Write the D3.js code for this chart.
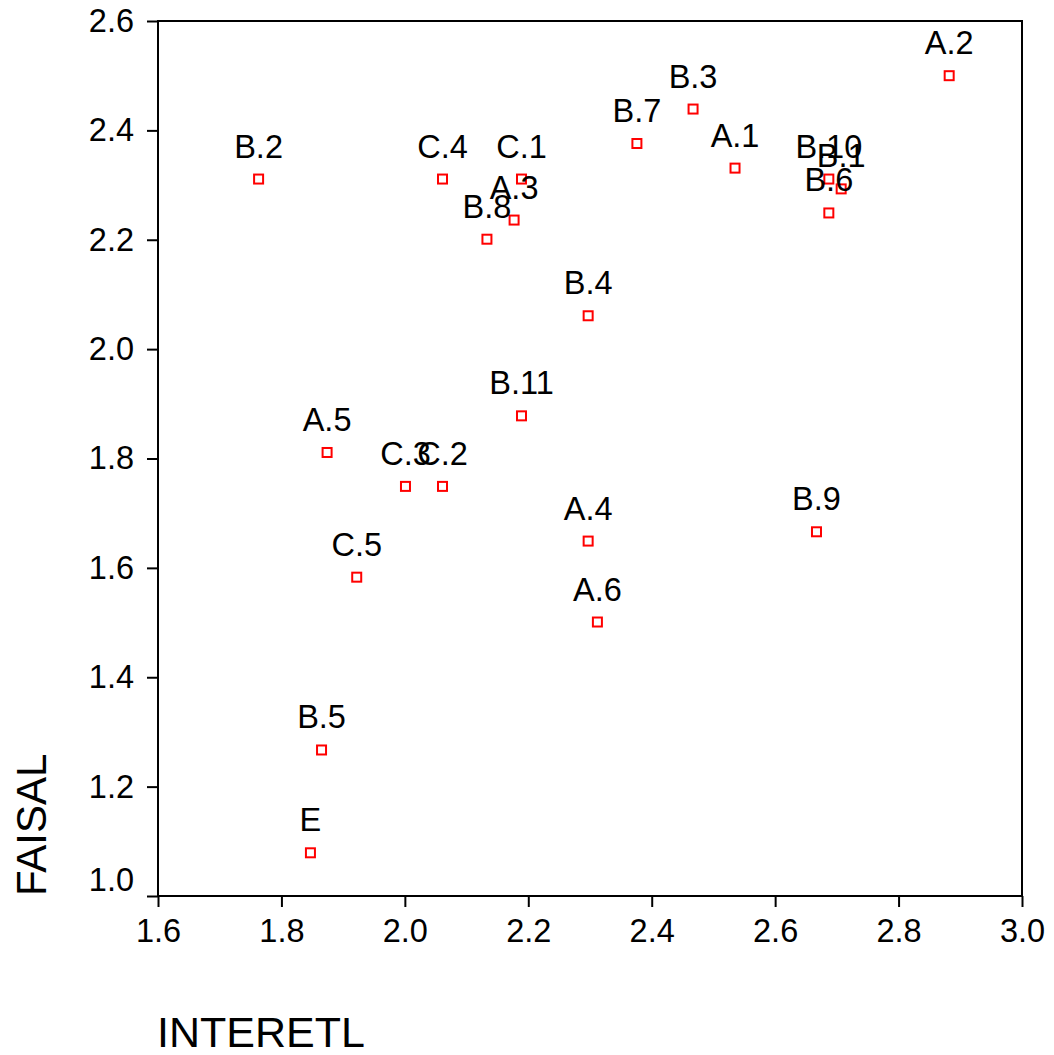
<!DOCTYPE html>
<html>
<head>
<meta charset="utf-8">
<script src="https://cdn.jsdelivr.net/npm/d3@7"></script>
<style>
  body { margin: 0; background: #fff; }
  svg { font-family: "Liberation Sans", Arial, sans-serif; }
</style>
</head>
<body>
<div id="chart"></div>
<script>
// point labels, INTERETL (x) and FAISAL (y) values
var labels = ["A.2", "B.3", "B.7", "A.1", "B.2", "C.4", "C.1", "A.3", "B.8", "B.10", "B.1", "B.6",
              "B.4", "B.11", "A.5", "C.3", "C.2", "A.4", "B.9", "C.5", "A.6", "B.5", "E"];
var interetl = [2.882, 2.467, 2.376, 2.535, 1.763, 2.061, 2.189, 2.177, 2.133, 2.687, 2.707, 2.687,
                2.297, 2.189, 1.874, 2.001, 2.061, 2.297, 2.667, 1.922, 2.312, 1.865, 1.847];
var faisal = [2.500, 2.439, 2.376, 2.331, 2.311, 2.311, 2.311, 2.236, 2.201, 2.311, 2.293, 2.249,
              2.061, 1.878, 1.811, 1.749, 1.749, 1.649, 1.666, 1.583, 1.501, 1.267, 1.079];
var xTicks = [1.6, 1.8, 2.0, 2.2, 2.4, 2.6, 2.8, 3.0];
var yTicks = [1.0, 1.2, 1.4, 1.6, 1.8, 2.0, 2.2, 2.4, 2.6];

var width = 1054, height = 1055;
var margin = {top: 21, right: 32, bottom: 159, left: 158};
var fontSize = "32.5px";

var data = labels.map((d, i) => ({label: d, x: interetl[i], y: faisal[i]}));

var svg = d3.select("#chart").append("svg")
    .attr("width", width)
    .attr("height", height);

var x = d3.scaleLinear()
  .domain([1.6, 3.0])
  .range([margin.left, width - margin.right]);

var y = d3.scaleLinear()
  .domain([1.0, 2.6])
  .range([height - margin.bottom, margin.top]);

// frame
svg.append("rect")
  .attr("x", x(1.6))
  .attr("y", y(2.6))
  .attr("width", x(3.0) - x(1.6))
  .attr("height", y(1.0) - y(2.6))
  .style("fill", "none")
  .style("stroke", "#000")
  .style("stroke-width", 2);

var xAxis = d3.axisBottom(x)
  .tickValues(xTicks)
  .tickSize(11)
  .tickPadding(12)
  .tickFormat(d3.format(".1f"));

var yAxis = d3.axisLeft(y)
  .tickValues(yTicks)
  .tickSize(11)
  .tickPadding(13)
  .tickFormat(d3.format(".1f"));

var gx = svg.append("g")
  .attr("transform", `translate(0,${y(1.0)})`)
  .call(xAxis);

var gy = svg.append("g")
  .attr("transform", `translate(${x(1.6)},0)`)
  .call(yAxis);

[gx, gy].forEach(g => {
  g.select(".domain").remove();
  g.selectAll(".tick line").style("stroke", "#000").style("stroke-width", 2);
  g.selectAll(".tick text")
    .style("font-size", fontSize)
    .style("fill", "#000")
    .attr("font-family", null);
});

// lowest y label sits a bit above its tick, clear of the x labels
gy.selectAll(".tick text").filter(d => d == 1.0).attr("y", -16);

// axis titles
svg.append("text")
  .attr("x", x(1.6) - 1)
  .attr("y", 1047)
  .style("font-size", "43px")
  .text("INTERETL");

svg.append("text")
  .attr("transform", `translate(46,${y(1.0)}) rotate(-90)`)
  .style("font-size", "42px")
  .text("FAISAL");

// points
var points = svg.append("g").attr("class", "points");

points.selectAll("rect")
  .data(data)
  .enter().append("rect")
    .attr("x", d => x(d.x) - 4.5)
    .attr("y", d => y(d.y) - 4.5)
    .attr("width", 9)
    .attr("height", 9)
    .style("fill", "#fff")
    .style("stroke", "#ff0000")
    .style("stroke-width", 2);

points.selectAll("text")
  .data(data)
  .enter().append("text")
    .attr("x", d => x(d.x))
    .attr("y", d => y(d.y) - 21.5)
    .style("text-anchor", "middle")
    .style("font-size", fontSize)
    .text(d => d.label);
</script>
</body>
</html>
